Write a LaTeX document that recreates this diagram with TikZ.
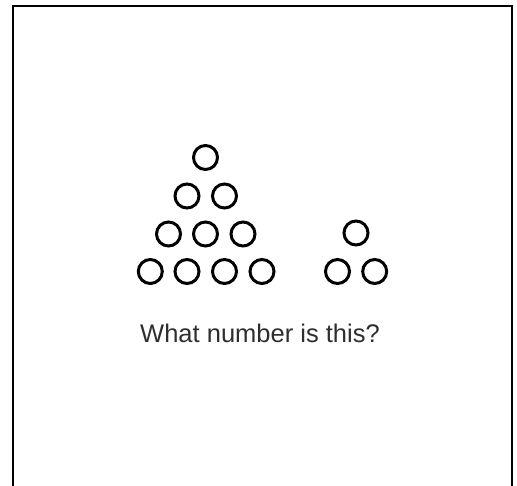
\documentclass[tikz,border=0pt]{standalone}
\usepackage{fontspec}
\setmainfont{Liberation Sans}
\begin{document}
\begin{tikzpicture}[x=1pt,y=-1pt,
  dot/.style={circle,draw=black,line width=3pt,minimum size=24pt,inner sep=0pt},
  frame/.style={draw=black,line width=2.2pt},
  caption/.style={font=\fontsize{25.5}{30}\selectfont,text=black!82,inner sep=0pt,anchor=base}]
\useasboundingbox (0,0) rectangle (517,485);
\coordinate (bl) at (13,490);
\coordinate (tl) at (13,6);
\coordinate (tr) at (512,6);
\coordinate (br) at (512,490);
\draw[frame] (bl) -- (tl) -- (tr) -- (br);
% big triangle
\node[dot] (a1) at (205.5,157.5) {};
\node[dot] (b1) at (187,196) {};
\node[dot] (b2) at (224.5,196) {};
\node[dot] (c1) at (168.5,234) {};
\node[dot] (c2) at (205.5,234) {};
\node[dot] (c3) at (243,234) {};
\node[dot] (d1) at (150.3,271.5) {};
\node[dot] (d2) at (187,271.5) {};
\node[dot] (d3) at (224.5,271.5) {};
\node[dot] (d4) at (262,271.5) {};
% small triangle
\node[dot] (e1) at (356,233) {};
\node[dot] (f1) at (337.5,271.5) {};
\node[dot] (f2) at (374.7,271.5) {};
\node[caption] (q) at (260,342.7) {What number is this?};
\end{tikzpicture}
\end{document}
